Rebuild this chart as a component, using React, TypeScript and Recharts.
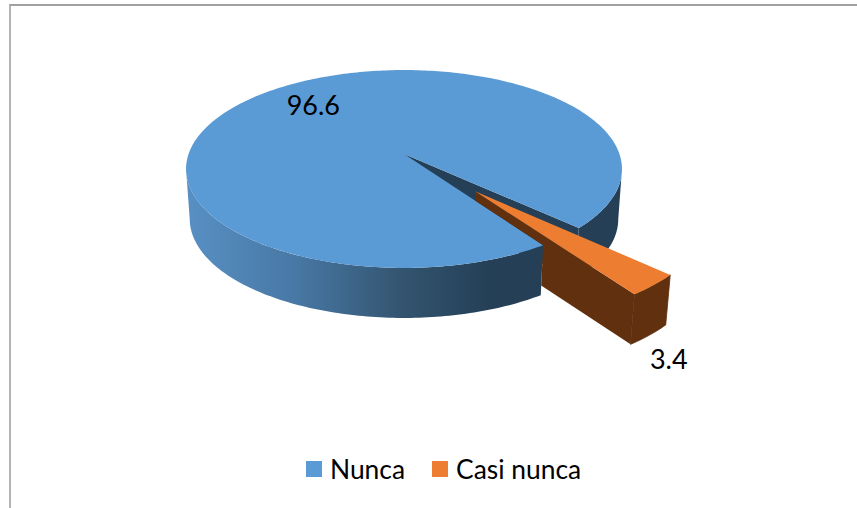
import { Legend, Pie, PieChart } from "recharts";

const categories = ["Nunca", "Casi nunca"];
const values = [96.6, 3.4];
const colors = ["#5b9bd5", "#ed7d31"];
const faceColors = ["#243f56", "#60300f"];
const explode = [0, 0.48];

const data = categories.map((name, i) => ({ name, value: values[i], fill: colors[i] }));

// perspective of the tilted disc, fitted to the picture
const D = 6.6;
const SCALE_X = 1422;
const SCALE_Y = 638;
const DEPTH = 50;
const SHRINK = 0.983;
const RAD = Math.PI / 180;
const TANGENT = Math.asin(1 / D) / RAD;

type Pt = [number, number];

const project = (cx: number, cy: number, u: number, v: number): Pt => [
  cx + (SCALE_X * u) / (D - v),
  cy + (SCALE_Y * v) / (D - v),
];
const lower = (cx: number, p: Pt): Pt => [cx + (p[0] - cx) * SHRINK, p[1] + DEPTH];
const toPath = (pts: Pt[]) =>
  "M" + pts.map((p) => `${p[0].toFixed(2)},${p[1].toFixed(2)}`).join("L") + "Z";

function Slice3D(props: any) {
  const { cx, cy, startAngle, endAngle, fill, index } = props;
  const from = -startAngle;
  const to = -endAngle;
  const mid = ((from + to) / 2) * RAD;
  const ou = explode[index] * Math.cos(mid);
  const ov = explode[index] * Math.sin(mid);
  const rim = (deg: number) =>
    project(cx, cy, ou + Math.cos(deg * RAD), ov + Math.sin(deg * RAD));
  const apex = project(cx, cy, ou, ov);

  const arc = (a: number, b: number) => {
    const pts: Pt[] = [];
    const n = Math.max(2, Math.ceil(b - a));
    for (let k = 0; k <= n; k++) pts.push(rim(a + ((b - a) * k) / n));
    return pts;
  };

  const walls: string[] = [];
  for (const shift of [0, 360]) {
    const a = Math.max(from, TANGENT + shift);
    const b = Math.min(to, 180 - TANGENT + shift);
    if (b > a) {
      const top = arc(a, b);
      walls.push(toPath([...top, ...top.map((p) => lower(cx, p)).reverse()]));
    }
  }
  const face = (deg: number) => {
    const r = rim(deg);
    return toPath([apex, r, lower(cx, r), lower(cx, apex)]);
  };
  const wallFill = index === 0 ? "url(#wallShade)" : faceColors[index];
  // closes the hairline between the side faces of the small slice
  const wallStroke = index === 0 ? "none" : faceColors[index];

  // the pulled-out slice still sits partly behind the disc: hide its side where the disc covers it
  const discEdge = project(cx, cy, Math.cos(to * RAD), Math.sin(to * RAD));
  const edgeFoot = lower(cx, discEdge);
  const clip = toPath([
    [cx, cy],
    discEdge,
    edgeFoot,
    [edgeFoot[0], 520],
    [900, 520],
    [900, 0],
    [cx, 0],
  ]);

  return (
    <g>
      <defs>
        <linearGradient id="wallShade" gradientUnits="userSpaceOnUse" x1="186" y1="0" x2="621" y2="0">
          <stop offset="0%" stopColor="#5890c4" />
          <stop offset="25%" stopColor="#4878a5" />
          <stop offset="50%" stopColor="#33546f" />
          <stop offset="70%" stopColor="#243f56" />
          <stop offset="100%" stopColor="#243f56" />
        </linearGradient>
        {index > 0 && (
          <clipPath id={`outside-${index}`}>
            <path d={clip} />
          </clipPath>
        )}
      </defs>
      <g clipPath={index > 0 ? `url(#outside-${index})` : undefined}>
        {Math.cos(to * RAD) > 0 && <path d={face(to)} fill={faceColors[index]} />}
        {Math.cos(from * RAD) < 0 && <path d={face(from)} fill={faceColors[index]} />}
        {walls.map((d, i) => (
          <path key={i} d={d} fill={wallFill} stroke={wallStroke} strokeWidth={0.8} />
        ))}
      </g>
      <path d={toPath([apex, ...arc(from, to)])} fill={fill} />
    </g>
  );
}

function SliceLabel(props: any) {
  const { cx, cy, midAngle, value, index } = props;
  const deg = midAngle * RAD;
  // angle comes in counter-clockwise, the disc is drawn with v towards the viewer
  const u = Math.cos(deg);
  const v = -Math.sin(deg);
  let p: Pt;
  if (index === 0) {
    const q = project(cx, cy, 0.7 * u, 0.7 * v);
    p = [q[0], q[1] - 2];
  } else {
    const e = project(cx, cy, (explode[index] + 1) * u, (explode[index] + 1) * v);
    p = [e[0] + 15, e[1] + 73];
  }
  return (
    <text
      x={p[0]}
      y={p[1]}
      textAnchor="middle"
      dominantBaseline="central"
      fill="#000"
      fontFamily="Lato, sans-serif"
      fontSize={27}
    >
      {value}
    </text>
  );
}

function LegendRow({ payload }: any) {
  return (
    <div style={{ display: "flex", alignItems: "center", fontFamily: "Lato, sans-serif", fontSize: 26.4, color: "#000" }}>
      {(payload || []).map((item: any) => (
        <div key={item.value} style={{ display: "flex", alignItems: "center", marginRight: 27 }}>
          <span style={{ width: 16, height: 16, background: item.color, marginRight: 8 }} />
          <span>{item.value}</span>
        </div>
      ))}
    </div>
  );
}

export default function App() {
  return (
    <div style={{ position: "absolute", left: 0, top: 0, width: 857, height: 508, background: "#fff", overflow: "hidden" }}>
      <div style={{ position: "absolute", left: 9, top: 4, width: 860, height: 520, borderLeft: "2px solid #b4b4b4", borderTop: "2px solid #a0a0a0" }} />
      <PieChart
        width={857}
        height={508}
        margin={{ top: 0, right: 0, bottom: 0, left: 0 }}
        style={{ position: "absolute", left: 0, top: 0 }}
      >
        <Pie
          data={data}
          dataKey="value"
          nameKey="name"
          cx={404}
          cy={154}
          outerRadius={215}
          startAngle={-55.6}
          endAngle={-415.6}
          stroke="none"
          shape={Slice3D}
          activeShape={Slice3D}
          inactiveShape={Slice3D}
          label={SliceLabel}
          labelLine={false}
          isAnimationActive={false}
        />
        <Legend
          content={LegendRow}
          itemSorter={null}
          wrapperStyle={{ left: 306, top: 453, width: 400, bottom: "auto" }}
        />
      </PieChart>
    </div>
  );
}
